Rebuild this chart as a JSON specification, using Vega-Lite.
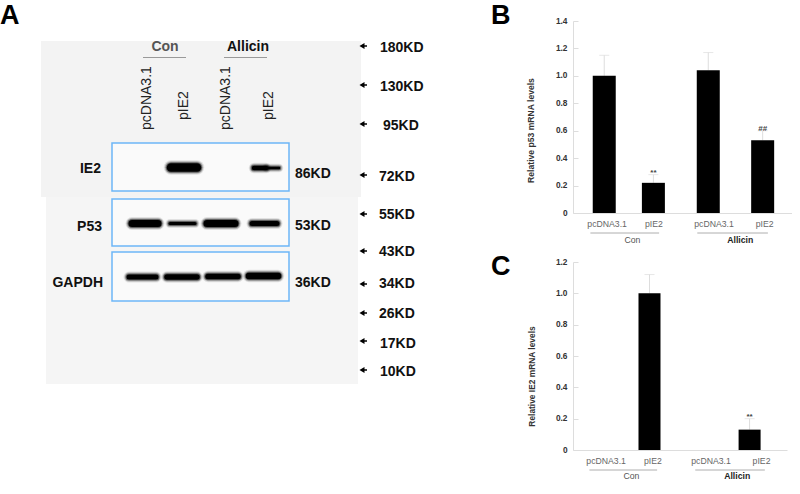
{
"$schema":"https://vega.github.io/schema/vega-lite/v6.json",
"background":"white","padding":0,"bounds":"flush","spacing":0,
"config":{"view":{"stroke":null},"font":"Liberation Sans"},
"datasets":{
"markers":[{"label":"180KD","x":380,"y":52,"arrow":46},{"label":"130KD","x":380,"y":91,"arrow":85},{"label":"95KD","x":383,"y":130,"arrow":124},{"label":"72KD","x":379,"y":181,"arrow":175},{"label":"55KD","x":379,"y":219,"arrow":214},{"label":"43KD","x":379,"y":256,"arrow":251},{"label":"34KD","x":379,"y":288,"arrow":284},{"label":"26KD","x":379,"y":318,"arrow":313},{"label":"17KD","x":380,"y":348,"arrow":341},{"label":"10KD","x":380,"y":376,"arrow":370}],
"frames":[{"protein":"IE2","x":112,"x2":289,"y":143,"y2":191},{"protein":"P53","x":112,"x2":289,"y":199,"y2":246},{"protein":"GAPDH","x":112,"x2":289,"y":252,"y2":301}],
"bands":[{"protein":"IE2","lane":"pIE2 Con","x":171,"x2":197,"y":167.5,"w":8.5},{"protein":"IE2","lane":"pIE2 Allicin","x":254,"x2":266,"y":168,"w":4.5},{"protein":"IE2","lane":"pIE2 Allicin tail","x":266,"x2":279,"y":168,"w":2.5},{"protein":"P53","lane":"pcDNA3.1 Con","x":132,"x2":158,"y":223.5,"w":7},{"protein":"P53","lane":"pIE2 Con","x":170,"x2":195,"y":223.5,"w":3},{"protein":"P53","lane":"pcDNA3.1 Allicin","x":207,"x2":235,"y":223.5,"w":7},{"protein":"P53","lane":"pIE2 Allicin","x":252,"x2":277,"y":223.5,"w":5},{"protein":"GAPDH","lane":"pcDNA3.1 Con","x":129,"x2":156,"y":277,"w":5},{"protein":"GAPDH","lane":"pIE2 Con","x":167,"x2":197,"y":277,"w":5.5},{"protein":"GAPDH","lane":"pcDNA3.1 Allicin","x":208,"x2":238,"y":276.5,"w":5.5},{"protein":"GAPDH","lane":"pIE2 Allicin","x":249,"x2":278,"y":276,"w":6.5}],
"barsB":[{"group":"Con","name":"pcDNA3.1","pos":0.55,"value":1.0,"err":1.15},{"group":"Con","name":"pIE2","pos":1.58,"value":0.22,"err":0.28,"sig":"**"},{"group":"Allicin","name":"pcDNA3.1","pos":2.73,"value":1.04,"err":1.17},{"group":"Allicin","name":"pIE2","pos":3.87,"value":0.53,"err":0.6,"sig":"##"}],
"barsC":[{"group":"Con","name":"pcDNA3.1","pos":0.55,"value":0,"err":0},{"group":"Con","name":"pIE2","pos":1.5,"value":1.0,"err":1.12},{"group":"Allicin","name":"pcDNA3.1","pos":2.6,"value":0,"err":0},{"group":"Allicin","name":"pIE2","pos":3.6,"value":0.13,"err":0.2,"sig":"**"}]
},
"hconcat":[
{"width":573,"height":473,
"encoding":{"x":{"field":"x","type":"quantitative","scale":{"domain":[0,573],"nice":false},"axis":null},"y":{"field":"y","type":"quantitative","scale":{"domain":[494,21],"nice":false},"axis":null}},
"layer":[
{"data":{"values":[{"x":0,"x2":573,"y":0,"y2":494}]},"mark":{"type":"rect","fill":"white"},"encoding":{"x2":{"field":"x2"},"y2":{"field":"y2"}}},
{"data":{"values":[{"x":46,"x2":358,"y":197,"y2":384}]},"mark":{"type":"rect","fill":"#f5f5f5"},"encoding":{"x2":{"field":"x2"},"y2":{"field":"y2"}}},
{"data":{"values":[{"x":41,"x2":361,"y":41,"y2":197}]},"mark":{"type":"rect","fill":"#f3f3f3"},"encoding":{"x2":{"field":"x2"},"y2":{"field":"y2"}}},
{"data":{"name":"frames"},"mark":{"type":"rect","fill":"#fafafa","stroke":"#6db6f7","strokeWidth":1.5},"encoding":{"x2":{"field":"x2"},"y2":{"field":"y2"}}},
{"data":{"name":"bands"},"transform":[{"calculate":"datum.w+6","as":"halo"}],"mark":{"type":"rule","strokeCap":"round","color":"#333","opacity":0.12},"encoding":{"x2":{"field":"x2"},"size":{"field":"halo","type":"quantitative","scale":null,"legend":null}}},
{"data":{"name":"bands"},"transform":[{"calculate":"datum.w+4","as":"halo"}],"mark":{"type":"rule","strokeCap":"round","color":"#222","opacity":0.25},"encoding":{"x2":{"field":"x2"},"size":{"field":"halo","type":"quantitative","scale":null,"legend":null}}},
{"data":{"name":"bands"},"transform":[{"calculate":"datum.w+2","as":"halo"}],"mark":{"type":"rule","strokeCap":"round","color":"#111","opacity":0.5},"encoding":{"x2":{"field":"x2"},"size":{"field":"halo","type":"quantitative","scale":null,"legend":null}}},
{"data":{"name":"bands"},"mark":{"type":"rule","strokeCap":"round","color":"#000"},"encoding":{"x2":{"field":"x2"},"size":{"field":"w","type":"quantitative","scale":null,"legend":null}}},
{"data":{"values":[{"x":143,"x2":186,"y":57.5},{"x":224,"x2":267,"y":57.5}]},"mark":{"type":"rule","color":"#999","strokeWidth":1},"encoding":{"x2":{"field":"x2"}}},
{"data":{"values":[{"t":"Con","x":165,"y":51}]},"mark":{"type":"text","align":"center","baseline":"alphabetic","fontSize":14,"fontWeight":"bold","color":"#555"},"encoding":{"text":{"field":"t"}}},
{"data":{"values":[{"t":"Allicin","x":248,"y":51}]},"mark":{"type":"text","align":"center","baseline":"alphabetic","fontSize":14,"fontWeight":"bold","color":"#111"},"encoding":{"text":{"field":"t"}}},
{"data":{"values":[{"t":"pcDNA3.1","x":147,"y":130},{"t":"pIE2","x":184,"y":120},{"t":"pcDNA3.1","x":226,"y":130},{"t":"pIE2","x":269,"y":120}]},"mark":{"type":"text","angle":270,"align":"left","baseline":"middle","fontSize":14,"color":"#222"},"encoding":{"text":{"field":"t"}}},
{"data":{"values":[{"t":"IE2","x":101,"y":173},{"t":"P53","x":102,"y":231},{"t":"GAPDH","x":103,"y":287}]},"mark":{"type":"text","align":"right","baseline":"alphabetic","fontSize":14,"fontWeight":"bold","color":"#111"},"encoding":{"text":{"field":"t"}}},
{"data":{"values":[{"t":"86KD","x":295,"y":178},{"t":"53KD","x":295,"y":230},{"t":"36KD","x":295,"y":287}]},"mark":{"type":"text","align":"left","baseline":"alphabetic","fontSize":14,"fontWeight":"bold","color":"#111"},"encoding":{"text":{"field":"t"}}},
{"data":{"name":"markers"},"mark":{"type":"text","align":"left","baseline":"alphabetic","fontSize":14,"fontWeight":"bold","color":"#111"},"encoding":{"text":{"field":"label"}}},
{"data":{"name":"markers"},"mark":{"type":"point","shape":"triangle-left","filled":true,"size":34,"color":"#000","opacity":1},"encoding":{"x":{"datum":362},"y":{"field":"arrow","type":"quantitative"}}},
{"data":{"name":"markers"},"mark":{"type":"rule","color":"#000","strokeWidth":1.5},"encoding":{"x":{"datum":362},"x2":{"datum":367},"y":{"field":"arrow","type":"quantitative"}}},
{"data":{"values":[{"t":"A","x":0,"y":24},{"t":"B","x":491,"y":24},{"t":"C","x":491,"y":275}]},"mark":{"type":"text","align":"left","baseline":"alphabetic","fontSize":27,"fontWeight":"bold","color":"#000"},"encoding":{"text":{"field":"t"}}}
]},
{"vconcat":[
{"width":219,"height":192,
"data":{"name":"barsB"},
"encoding":{
"x":{"field":"pos","type":"quantitative","scale":{"domain":[0,4.38],"nice":false},"title":null,"axis":{"values":[0.6,1.58,2.84,3.9],"labelExpr":"datum.value<1||(datum.value>2&&datum.value<3)?'pcDNA3.1':'pIE2'","grid":false,"ticks":false,"domainColor":"#ddd","labelColor":"#666","labelFontSize":8.7,"labelPadding":6,"labelFont":"Liberation Sans"}},
"y":{"field":"value","type":"quantitative","scale":{"domain":[0,1.4],"nice":false},"axis":{"values":[0,0.2,0.4,0.6,0.8,1.0,1.2,1.4],"labelExpr":"datum.value==0?'0':format(datum.value,'.1f')","grid":false,"tickColor":"#ddd","tickSize":-5,"domainColor":"#ddd","labelColor":"#333","labelFontSize":8.3,"labelFontWeight":"bold","labelPadding":11,"title":"Relative p53 mRNA levels","titleFontSize":8.6,"titleFontWeight":"bold","titleColor":"#333","titleX":-38,"titleY":109,"titleFont":"Liberation Sans"}}
},
"layer":[
{"mark":{"type":"rule","color":"#ddd"},"encoding":{"y":{"field":"err","type":"quantitative"},"y2":{"field":"value"}}},
{"mark":{"type":"tick","orient":"horizontal","color":"#ddd","size":10,"thickness":1},"encoding":{"y":{"field":"err","type":"quantitative"}}},
{"mark":{"type":"bar","orient":"vertical","color":"#000","size":23}},
{"transform":[{"filter":"datum.sig"}],"mark":{"type":"text","fontSize":8,"fontWeight":"bold","color":"#444","dy":-2},"encoding":{"y":{"field":"err","type":"quantitative"},"text":{"field":"sig"}}},
{"data":{"values":[{"pos":0.26,"pos2":1.7,"value":0},{"pos":2.5,"pos2":3.98,"value":0}]},"mark":{"type":"rule","color":"#999","strokeWidth":0.8,"yOffset":20},"encoding":{"x2":{"field":"pos2"}}},
{"data":{"values":[{"t":"Con","pos":1.14,"value":0}]},"mark":{"type":"text","fontSize":8.7,"color":"#555","dy":27},"encoding":{"text":{"field":"t"}}},
{"data":{"values":[{"t":"Allicin","pos":3.4,"value":0}]},"mark":{"type":"text","fontSize":8.7,"fontWeight":"bold","color":"#222","dy":27},"encoding":{"text":{"field":"t"}}}
]},
{"width":214,"height":188,
"data":{"name":"barsC"},
"encoding":{
"x":{"field":"pos","type":"quantitative","scale":{"domain":[0,4.28],"nice":false},"title":null,"axis":{"values":[0.58,1.56,2.78,3.84],"labelExpr":"datum.value<1||(datum.value>2&&datum.value<3)?'pcDNA3.1':'pIE2'","grid":false,"ticks":false,"domainColor":"#ddd","labelColor":"#666","labelFontSize":8.7,"labelPadding":6,"labelFont":"Liberation Sans"}},
"y":{"field":"value","type":"quantitative","scale":{"domain":[0,1.2],"nice":false},"axis":{"values":[0,0.2,0.4,0.6,0.8,1.0,1.2],"labelExpr":"datum.value==0?'0':format(datum.value,'.1f')","grid":false,"tickColor":"#ddd","tickSize":-5,"domainColor":"#ddd","labelColor":"#333","labelFontSize":8.3,"labelFontWeight":"bold","labelPadding":11,"title":"Relative IE2 mRNA levels","titleFontSize":8.4,"titleFontWeight":"bold","titleColor":"#333","titleX":-37,"titleY":114,"titleFont":"Liberation Sans"}}
},
"layer":[
{"transform":[{"filter":"datum.value>0"}],"mark":{"type":"rule","color":"#ddd"},"encoding":{"y":{"field":"err","type":"quantitative"},"y2":{"field":"value"}}},
{"transform":[{"filter":"datum.value>0"}],"mark":{"type":"tick","orient":"horizontal","color":"#ddd","size":10,"thickness":1},"encoding":{"y":{"field":"err","type":"quantitative"}}},
{"mark":{"type":"bar","orient":"vertical","color":"#000","size":22}},
{"transform":[{"filter":"datum.sig"}],"mark":{"type":"text","fontSize":8,"fontWeight":"bold","color":"#444","dy":-2},"encoding":{"y":{"field":"err","type":"quantitative"},"text":{"field":"sig"}}},
{"data":{"values":[{"pos":0.24,"pos2":1.66,"value":0},{"pos":2.46,"pos2":3.92,"value":0}]},"mark":{"type":"rule","color":"#999","strokeWidth":0.8,"yOffset":20},"encoding":{"x2":{"field":"pos2"}}},
{"data":{"values":[{"t":"Con","pos":1.12,"value":0}]},"mark":{"type":"text","fontSize":8.7,"color":"#555","dy":26},"encoding":{"text":{"field":"t"}}},
{"data":{"values":[{"t":"Allicin","pos":3.34,"value":0}]},"mark":{"type":"text","fontSize":8.7,"fontWeight":"bold","color":"#222","dy":26},"encoding":{"text":{"field":"t"}}}
]}
],"spacing":49,"bounds":"flush"}
]
}
